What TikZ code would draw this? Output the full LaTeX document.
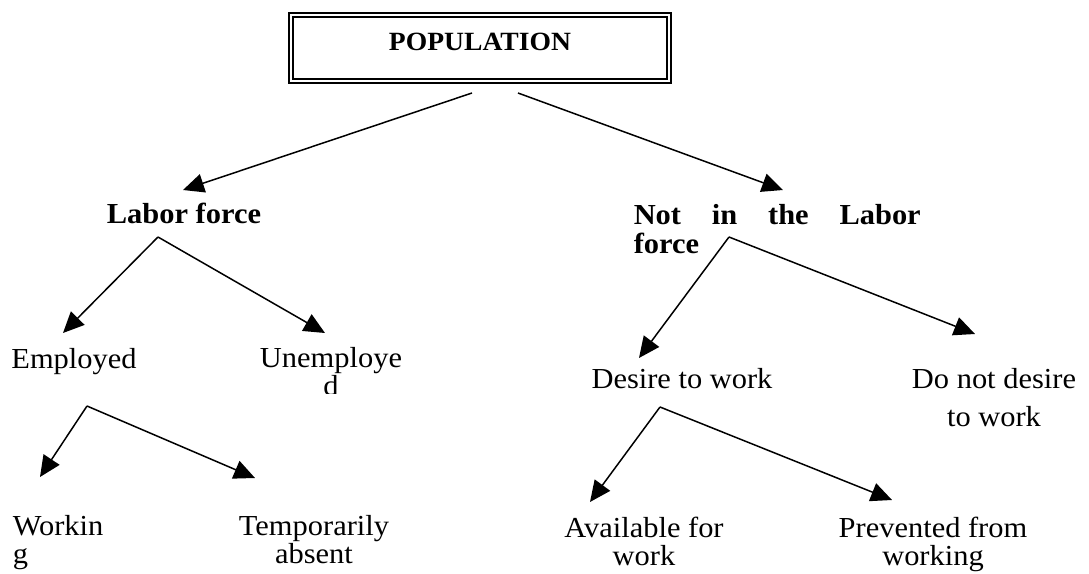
\documentclass[tikz,border=0pt]{standalone}
\usepackage{fontspec}
\setmainfont{Liberation Serif}[FakeStretch=1.05]
\usetikzlibrary{arrows.meta}
\begin{document}
\begin{tikzpicture}[x=1pt,y=-1pt,line width=1.5pt,
  arr/.style={-{Triangle[length=21pt,width=19pt]}},
  lbl/.style={inner sep=0pt,anchor=base,align=center,font=\fontsize{29}{28}\selectfont},
  head/.style={lbl,font=\fontsize{29}{29}\selectfont\bfseries},
  topbox/.style={draw,double,double distance=2.8pt,line width=1.2pt,inner sep=0pt,
    anchor=base,minimum width=378pt,text height=35pt,text depth=31pt,
    font=\fontsize{26.3}{27}\selectfont\bfseries}]
 \useasboundingbox (0,0) rectangle (1089,573);
 \node[topbox] (pop) at (480,50) {POPULATION};
 \node[head] (lab) at (184,223) {Labor force};
 \node[head,anchor=base west,text width=287pt,align=left] (notlab) at (633,224)
   {Not\hfill in\hfill the\hfill Labor\\force};
 \node[lbl] (emp) at (74,368) {Employed};
 \begin{scope}
  \clip (240,300) rectangle (420,393);
  \node[lbl] (unemp) at (331,395) {Unemploye\\d};
 \end{scope}
 \node[lbl,align=left,anchor=base west] (work) at (12,563) {Workin\\g};
 \node[lbl] (temp) at (314,563) {Temporarily\\absent};
 \node[lbl] (des) at (682,388) {Desire to work};
 \node[lbl] (nodes) at (994,426) {Do not desire\\[10pt]to work};
 \node[lbl] (avail) at (644,565) {Available for\\work};
 \node[lbl] (prev) at (933,565) {Prevented from\\working};
 \coordinate (popL) at (472,93); \coordinate (popR) at (518,93);
 \coordinate (labF) at (158,237); \coordinate (notF) at (729,237);
 \coordinate (empF) at (87,406); \coordinate (desF) at (660,407);
 \coordinate (labT) at (183,190); \coordinate (notT) at (783,190);
 \coordinate (empT) at (63,333); \coordinate (unempT) at (325,333);
 \coordinate (desT) at (639,358); \coordinate (nodesT) at (975,334);
 \coordinate (workT) at (40,477); \coordinate (tempT) at (255,478);
 \coordinate (availT) at (590,502); \coordinate (prevT) at (892,500);
 \draw[arr] (popL) -- (labT); \draw[arr] (popR) -- (notT);
 \draw[arr] (labF) -- (empT); \draw[arr] (labF) -- (unempT);
 \draw[arr] (notF) -- (desT); \draw[arr] (notF) -- (nodesT);
 \draw[arr] (empF) -- (workT); \draw[arr] (empF) -- (tempT);
 \draw[arr] (desF) -- (availT); \draw[arr] (desF) -- (prevT);
\end{tikzpicture}
\end{document}
